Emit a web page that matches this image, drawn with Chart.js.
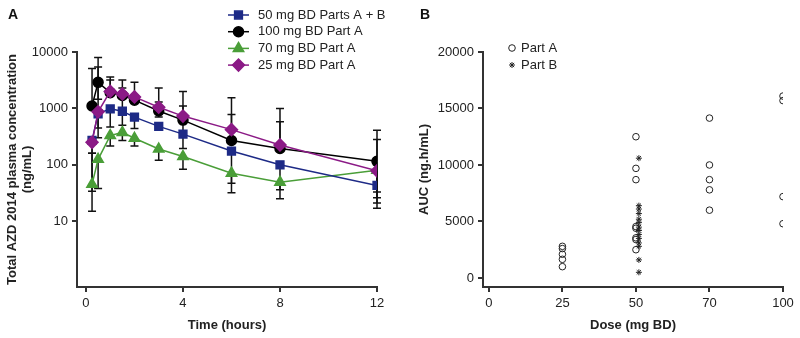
<!DOCTYPE html>
<html lang="en">
<head>
<meta charset="UTF-8">
<title>AZD 2014 PK</title>
<style>
    body { margin: 0; background: #fff; }
    .painel { position: absolute; top: 0; width: 400px; height: 338px; }
    #painelA { left: 0; }
    #painelB { left: 400px; }
</style>
</head>
<body>
<div id="painelA" class="painel"><canvas id="graficoA" width="400" height="338"></canvas></div>
<div id="painelB" class="painel"><canvas id="graficoB" width="400" height="338"></canvas></div>
<script src="https://cdn.jsdelivr.net/npm/chart.js"></script>
<script>
    // panel A: concentration vs time (mean, error bar ends)
    const tempos = [0.25, 0.5, 1, 1.5, 2, 3, 4, 6, 8, 12];

    const azul = [270, 800, 980, 890, 700, 480, 350, 175, 100, 43];
    const azulSup = [null, 5400, null, null, null, null, null, null, null, null];
    const azulInf = [160, 300, 470, 500, 440, null, null, 47, 36, 17];

    const preto = [1100, 2900, 1900, 1700, 1400, 900, 620, 270, 195, 115];
    const pretoSup = [5100, 8000, 3600, 3200, 2900, 1300, 1100, 780, 580, 410];
    const pretoInf = [null, 1450, null, null, null, 700, 195, null, null, 26];

    const verde = [45, 125, 330, 375, 295, 190, 140, 71, 49, 80];
    const verdeSup = [160, null, null, null, null, null, null, null, null, null];
    const verdeInf = [15, 38, 215, 270, 215, 120, 83, 32, 25, 21];

    const roxo = [250, 870, 2000, 1800, 1600, 1050, 730, 420, 225, 78];
    const roxoSup = [null, null, 3200, 2300, 1700, 2300, 2000, 1540, 1000, 280];
    const roxoInf = [34, 450, null, 760, null, null, null, null, null, 33];

    const ticksTempo = [0, 4, 8, 12];
    const ticksConc = [10, 100, 1000, 10000];

    // panel B: AUC by dose
    const doses = ['0', '25', '50', '70', '100'];
    const parteADose = ['25', '25', '25', '25', '25',
        '50', '50', '50', '50', '50', '50', '50', '50',
        '70', '70', '70', '70', '70',
        '100', '100', '100', '100'];
    const parteAAuc = [2800, 2600, 2100, 1650, 1000,
        12500, 9700, 8700, 4550, 4400, 3550, 3400, 2500,
        14150, 10000, 8700, 7800, 6000,
        16100, 15700, 7200, 4800];
    const parteBDose = ['50', '50', '50', '50', '50', '50', '50', '50', '50', '50', '50', '50', '50', '50'];
    const parteBAuc = [10600, 6400, 6100, 5700, 5200, 4900, 4500, 4200, 3850, 3500, 3100, 2800, 1600, 500];
    const ticksAuc = [0, 5000, 10000, 15000, 20000];

    const fonte = "'Liberation Sans', Arial, sans-serif";
    const corTexto = '#222';
    const corEixo = '#333';

    Chart.defaults.font.family = fonte;
    Chart.defaults.color = corTexto;

    function pontos(xs, ys) {
        return xs.map(function (x, i) { return { x: x, y: ys[i] }; });
    }

    const barrasDeErro = {
        id: 'barrasDeErro',
        beforeDatasetsDraw(chart) {
            const ctx = chart.ctx;
            const sx = chart.scales.x;
            const sy = chart.scales.y;
            ctx.save();
            ctx.strokeStyle = '#111';
            ctx.lineWidth = 1.5;
            chart.data.datasets.forEach(function (ds) {
                ds.data.forEach(function (p, i) {
                    const px = sx.getPixelForValue(p.x);
                    const py = sy.getPixelForValue(p.y);
                    [ds.erroSup[i], ds.erroInf[i]].forEach(function (fim) {
                        if (fim === null) return;
                        const pf = sy.getPixelForValue(fim);
                        ctx.beginPath();
                        ctx.moveTo(px, py);
                        ctx.lineTo(px, pf);
                        ctx.moveTo(px - 4, pf);
                        ctx.lineTo(px + 4, pf);
                        ctx.stroke();
                    });
                });
            });
            ctx.restore();
        }
    };

    function desenharMarcador(ctx, estilo, x, y, raio) {
        Chart.helpers.drawPoint(ctx, {
            pointStyle: estilo, radius: raio, borderWidth: 1
        }, x, y);
    }

    const legendaA = {
        id: 'legendaA',
        afterDraw(chart) {
            const ctx = chart.ctx;
            ctx.save();
            ctx.font = 'bold 14px ' + fonte;
            ctx.fillStyle = '#111';
            ctx.textBaseline = 'middle';
            ctx.fillText('A', 8, 15);
            ctx.font = '13px ' + fonte;
            const itens = [chart.data.datasets[3], chart.data.datasets[1], chart.data.datasets[2], chart.data.datasets[0]];
            itens.forEach(function (ds, i) {
                const y = 15 + i * 16.7;
                ctx.strokeStyle = ds.borderColor;
                ctx.lineWidth = 1.5;
                ctx.beginPath();
                ctx.moveTo(228, y);
                ctx.lineTo(249, y);
                ctx.stroke();
                ctx.fillStyle = ds.pointBackgroundColor;
                ctx.strokeStyle = ds.borderColor;
                desenharMarcador(ctx, ds.pointStyle, 238.5, y, ds.pointRadius);
                ctx.fillStyle = corTexto;
                ctx.fillText(ds.label, 258, y);
            });
            ctx.restore();
        }
    };

    const legendaB = {
        id: 'legendaB',
        afterDraw(chart) {
            const ctx = chart.ctx;
            ctx.save();
            ctx.font = 'bold 14px ' + fonte;
            ctx.fillStyle = '#111';
            ctx.textBaseline = 'middle';
            ctx.fillText('B', 20, 15);
            ctx.font = '13px ' + fonte;
            chart.data.datasets.forEach(function (ds, i) {
                const y = 48 + i * 17;
                ctx.fillStyle = '#fff';
                ctx.strokeStyle = ds.borderColor;
                ctx.lineWidth = 1;
                desenharMarcador(ctx, ds.pointStyle, 112, y, ds.pointRadius);
                ctx.fillStyle = corTexto;
                ctx.fillText(ds.label, 121, y);
            });
            ctx.restore();
        }
    };

    function serie(rotulo, valores, sup, inf, cor, estilo, raio, ordem) {
        return {
            label: rotulo,
            data: pontos(tempos, valores),
            erroSup: sup,
            erroInf: inf,
            borderColor: cor,
            backgroundColor: cor,
            pointBackgroundColor: cor,
            pointBorderColor: cor,
            pointStyle: estilo,
            pointRadius: raio,
            borderWidth: 1.5,
            tension: 0,
            order: ordem
        };
    }

    function eixoComum(extra) {
        return Object.assign({
            grid: { drawOnChartArea: false, drawTicks: true, tickLength: 5, lineWidth: 2, color: corEixo },
            border: { display: true, width: 2, color: corEixo },
            ticks: { font: { size: 13 }, color: corTexto, padding: 4 }
        }, extra);
    }

    new Chart(document.getElementById('graficoA'), {
        type: 'line',
        data: {
            datasets: [
                serie('25 mg BD Part A', roxo, roxoSup, roxoInf, '#8b1a86', 'rectRot', 6, 0),
                serie('100 mg BD Part A', preto, pretoSup, pretoInf, '#000000', 'circle', 5, 1),
                serie('70 mg BD Part A', verde, verdeSup, verdeInf, '#4a9e38', 'triangle', 6, 3),
                serie('50 mg BD Parts A + B', azul, azulSup, azulInf, '#1d2a86', 'rect', 5.5, 2)
            ]
        },
        options: {
            responsive: false,
            animation: false,
            devicePixelRatio: 1,
            layout: { padding: { top: 52, right: 23, left: 0, bottom: 0 } },
            plugins: { legend: { display: false }, tooltip: { enabled: false } },
            scales: {
                x: eixoComum({
                    type: 'linear',
                    min: -0.37,
                    max: 12,
                    afterBuildTicks: function (s) { s.ticks = ticksTempo.map(function (v) { return { value: v }; }); },
                    afterFit: function (s) { s.height = 51; },
                    title: { display: true, text: 'Time (hours)', font: { size: 13, weight: 'bold' }, color: corTexto, padding: { top: 2, bottom: 5 } }
                }),
                y: eixoComum({
                    type: 'logarithmic',
                    min: 0.68,
                    max: 10000,
                    afterBuildTicks: function (s) { s.ticks = ticksConc.map(function (v) { return { value: v }; }); },
                    afterFit: function (s) { s.width = 77; },
                    ticks: {
                        font: { size: 13 }, color: corTexto, padding: 4,
                        callback: function (v) { return String(v); }
                    },
                    title: {
                        display: true,
                        text: ['Total AZD 2014 plasma concentration', '(ng/mL)'],
                        font: { size: 13, weight: 'bold', lineHeight: 1.15 },
                        color: corTexto,
                        padding: { top: 5, bottom: 0 }
                    }
                })
            }
        },
        plugins: [barrasDeErro, legendaA]
    });

    function indiceDose(d, desvio) {
        return doses.indexOf(d) + desvio;
    }

    new Chart(document.getElementById('graficoB'), {
        type: 'scatter',
        data: {
            datasets: [
                {
                    label: 'Part A',
                    data: parteADose.map(function (d, i) { return { x: indiceDose(d, 0), y: parteAAuc[i] }; }),
                    pointStyle: 'circle',
                    pointRadius: 3.3,
                    borderWidth: 1,
                    borderColor: '#222',
                    backgroundColor: 'rgba(255,255,255,0)'
                },
                {
                    label: 'Part B',
                    data: parteBDose.map(function (d, i) { return { x: indiceDose(d, 0.04), y: parteBAuc[i] }; }),
                    pointStyle: 'star',
                    pointRadius: 3,
                    borderWidth: 1,
                    borderColor: '#222',
                    backgroundColor: '#222'
                }
            ]
        },
        options: {
            responsive: false,
            animation: false,
            devicePixelRatio: 1,
            layout: { padding: { top: 52, right: 17, left: 0, bottom: 0 } },
            plugins: { legend: { display: false }, tooltip: { enabled: false } },
            scales: {
                x: eixoComum({
                    type: 'linear',
                    min: -0.08,
                    max: 4,
                    afterBuildTicks: function (s) { s.ticks = doses.map(function (d, i) { return { value: i }; }); },
                    afterFit: function (s) { s.height = 51; },
                    ticks: {
                        font: { size: 13 }, color: corTexto, padding: 4,
                        callback: function (v) { return doses[v]; }
                    },
                    title: { display: true, text: 'Dose (mg BD)', font: { size: 13, weight: 'bold' }, color: corTexto, padding: { top: 2, bottom: 5 } }
                }),
                y: eixoComum({
                    type: 'linear',
                    min: -800,
                    max: 20000,
                    afterBuildTicks: function (s) { s.ticks = ticksAuc.map(function (v) { return { value: v }; }); },
                    afterFit: function (s) { s.width = 83; },
                    ticks: {
                        font: { size: 13 }, color: corTexto, padding: 4,
                        callback: function (v) { return String(v); }
                    },
                    title: { display: true, text: 'AUC (ng.h/mL)', font: { size: 13, weight: 'bold' }, color: corTexto, padding: { top: 17, bottom: 0 } }
                })
            }
        },
        plugins: [legendaB]
    });
</script>
</body>
</html>
